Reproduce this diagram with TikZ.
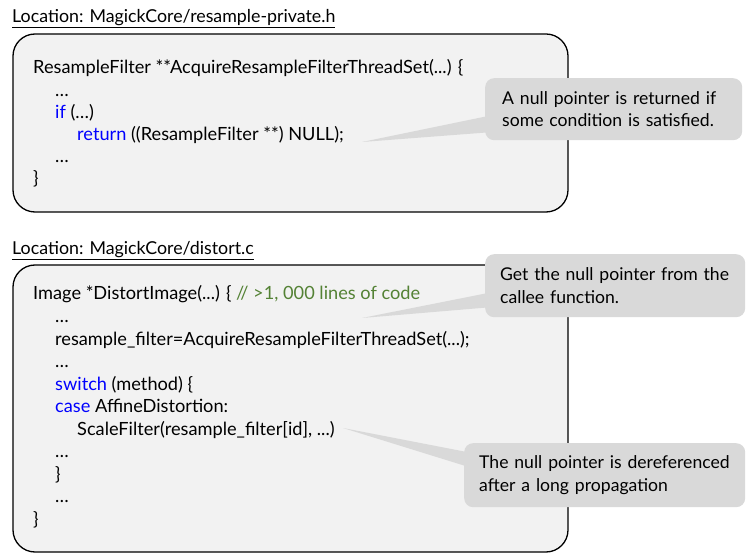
\documentclass[tikz,border=0pt]{standalone}
\usepackage{fontspec}
\setmainfont{Lato}
\usetikzlibrary{calc}
\definecolor{boxfill}{HTML}{F2F2F2}
\definecolor{callfill}{HTML}{D9D9D9}
\definecolor{kw}{HTML}{0000FF}
\definecolor{cmt}{HTML}{548235}
\newcommand{\kwd}[1]{\textcolor{kw}{#1}}
\begin{document}
\begin{tikzpicture}[x=1pt,y=-1pt,
  codebox/.style={draw=black, line width=1.3pt, fill=boxfill, rounded corners=22pt},
  codeline/.style={anchor=base west, inner sep=0pt, font=\fontsize{18.2}{20}\selectfont},
  titletext/.style={anchor=base west, inner sep=0pt, font=\fontsize{17.8}{20}\selectfont},
  callout/.style={fill=callfill, rounded corners=9pt, anchor=north west, align=left,
    inner xsep=0pt, inner ysep=0pt, font=\fontsize{17.6}{22.5}\selectfont},
  wedge/.style={fill=callfill}
]
\useasboundingbox (0,0) rectangle (747,553);

% titles
\node[titletext] (t1) at (12,23) {\underline{Location: MagickCore/resample-private.h}};
\node[titletext] (t2) at (12,255) {\underline{Location: MagickCore/distort.c}};

% code boxes
\draw[codebox] (13,34) rectangle (568,212);
\draw[codebox] (13,265) rectangle (568,552);

% box 1 code
\node[codeline] (a1) at (33,74) {ResampleFilter **AcquireResampleFilterThreadSet(...) \{};
\node[codeline] (a2) at (55,96.5) {…};
\node[codeline] (a3) at (55,119) {\kwd{if} (…)};
\node[codeline] (a4) at (77,141) {\kwd{return} ((ResampleFilter **) NULL);};
\node[codeline] (a5) at (55,163) {…};
\node[codeline] (a6) at (33,185) {\}};

% box 2 code
\node[codeline] (b1) at (33,300) {Image *DistortImage(...) \{ \textcolor{cmt}{// >1, 000 lines of code}};
\node[codeline] (b2) at (55,322.5) {…};
\node[codeline] (b3) at (55,345) {resample\_filter=AcquireResampleFilterThreadSet(...);};
\node[codeline] (b4) at (55,367.5) {…};
\node[codeline] (b5) at (55,390) {\kwd{switch} (method) \{};
\node[codeline] (b6) at (55,412.5) {\kwd{case} AffineDistortion:};
\node[codeline] (b7) at (77,435) {ScaleFilter(resample\_filter[id], ...)};
\node[codeline] (b8) at (55,457.5) {…};
\node[codeline] (b9) at (55,480) {\}};
\node[codeline] (b10) at (55,502.5) {…};
\node[codeline] (b11) at (33,525) {\}};

% callout tips
\coordinate (tip1) at (362,142);
\coordinate (tip2) at (362,318);
\coordinate (tip3) at (343,428);

% callouts
\node[callout, minimum width=257pt, minimum height=62pt, text width=257pt] (c1) at (485,78)
  {\hspace*{17pt}A null pointer is returned if\\\hspace*{17pt}some condition is satisfied.};
\node[callout, minimum width=260pt, minimum height=63pt, text width=260pt] (c2) at (485,254)
  {\hspace*{15pt}Get the null pointer from the\\\hspace*{15pt}callee function.};
\node[callout, minimum width=281pt, minimum height=64pt, text width=281pt] (c3) at (464,443)
  {\hspace*{15pt}The null pointer is dereferenced\\\hspace*{15pt}after a long propagation};

% wedges
\fill[wedge] (tip1) -- ($(c1.north west)+(8,37)$) -- ($(c1.north west)+(8,54)$) -- cycle;
\fill[wedge] (tip2) -- ($(c2.north west)+(8,38)$) -- ($(c2.north west)+(8,53)$) -- cycle;
\fill[wedge] (tip3) -- ($(c3.north west)+(8,10)$) -- ($(c3.north west)+(8,25)$) -- cycle;
\end{tikzpicture}
\end{document}
